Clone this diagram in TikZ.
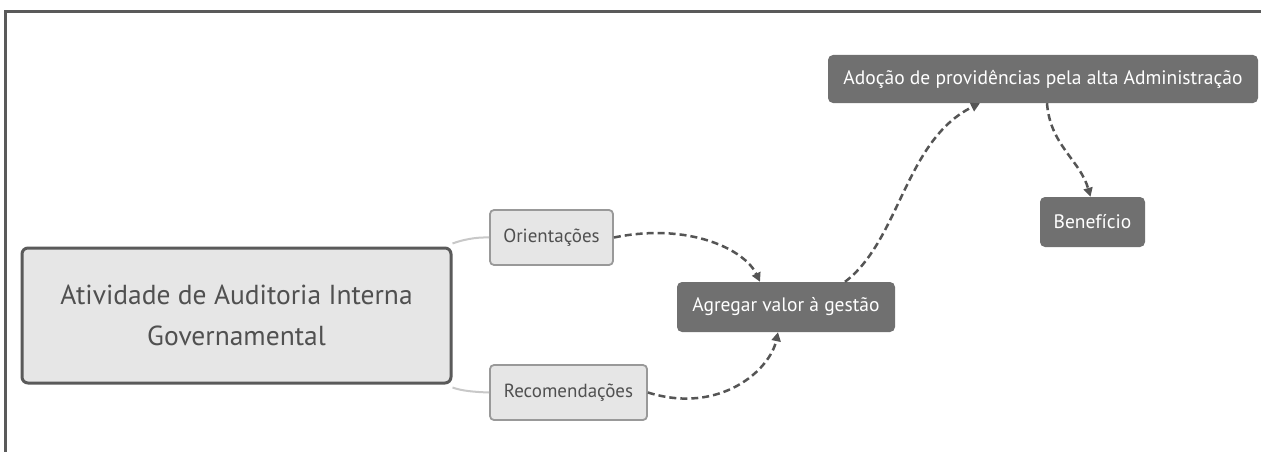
\documentclass[tikz,border=0pt]{standalone}
\usepackage{fontspec}
\setmainfont{PT Sans}
\usetikzlibrary{arrows.meta}
\definecolor{frame}{HTML}{5A5A5A}
\definecolor{lightfill}{HTML}{E6E6E6}
\definecolor{darkfill}{HTML}{707070}
\definecolor{txtgray}{HTML}{505050}
\definecolor{dashgray}{HTML}{555555}
\definecolor{linkgray}{HTML}{C8C8C8}
\tikzset{
  mainbox/.style={draw=frame, line width=3pt, fill=lightfill, rounded corners=6pt, inner sep=0pt,
    text=txtgray, align=center, font=\fontsize{27.5}{41}\selectfont},
  lightbox/.style={draw=black!40, line width=1.8pt, fill=lightfill, rounded corners=4pt, inner sep=0pt,
    text=txtgray, font=\fontsize{19}{22}\selectfont},
  darkbox/.style={fill=darkfill, rounded corners=5pt, inner sep=0pt,
    text=white, font=\fontsize{19.5}{22}\selectfont},
  link/.style={draw=linkgray, line width=2pt},
  flow/.style={draw=dashgray, line width=2.5pt, dash pattern=on 7pt off 4pt,
    -{Triangle[length=9pt,width=9pt]}},
}
\begin{document}
\begin{tikzpicture}[x=1pt,y=-1pt]
\useasboundingbox (0,0) rectangle (1261,452);
\fill[white] (0,0) rectangle (1261,452);
% frame
\draw[frame, line width=3pt] (5,452) -- (5,12) -- (1261,12);
% nodes
\node[mainbox, minimum width=429pt, minimum height=135pt] (main) at (236.5,315.5)
  {Atividade de Auditoria Interna\\Governamental};
\node[lightbox, minimum width=123pt, minimum height=55pt] (ori) at (551.5,237.5) {Orientações};
\node[lightbox, minimum width=157pt, minimum height=55pt] (rec) at (568.5,392.5) {Recomendações};
\node[darkbox, minimum width=218pt, minimum height=50pt] (ag) at (786,307) {Agregar valor à gestão};
\node[darkbox, minimum width=430pt, minimum height=48pt] (ad) at (1043,79) {Adoção de providências pela alta Administração};
\node[darkbox, minimum width=105pt, minimum height=50pt] (ben) at (1092.5,222) {Benefício};
% light links
\draw[link] ([yshift=3pt]main.north east) .. controls (462,240) and (475,237) .. (ori.west);
\draw[link] ([yshift=-3pt]main.south east) .. controls (462,391) and (475,392) .. (rec.west);
% dashed flows
\draw[flow] (ori.east) .. controls (690,222) and (745,250) .. ([xshift=-26pt]ag.north);
\draw[flow] (rec.east) .. controls (720,415) and (770,370) .. ([xshift=-8pt]ag.south);
\draw[flow] ([xshift=59pt]ag.north) .. controls (900,240) and (905,140) .. ([xshift=-63pt]ad.south);
\draw[flow] ([xshift=4pt]ad.south) .. controls (1050,145) and (1080,160) .. ([xshift=-2pt]ben.north);
\end{tikzpicture}
\end{document}
